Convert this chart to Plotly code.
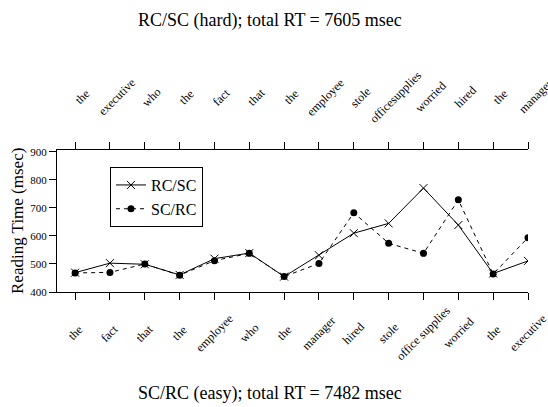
import plotly.graph_objects as go

bottom_words = ["the", "fact", "that", "the", "employee", "who", "the", "manager",
                "hired", "stole", "office supplies", "worried", "the", "executive"]
top_words = ["the", "executive", "who", "the", "fact", "that", "the", "employee",
             "stole", "officesupplies", "worried", "hired", "the", "manager"]
rc_sc = [469, 503, 499, 461, 519, 539, 455, 531, 610, 645, 771, 639, 466, 511]
sc_rc = [468, 470, 500, 460, 512, 538, 455, 502, 683, 574, 538, 729, 464, 594]
pos = list(range(len(bottom_words)))

FONT = "Liberation Serif, Times New Roman, serif"

fig = go.Figure()
fig.add_trace(go.Scatter(
    x=pos, y=rc_sc, name="RC/SC", mode="lines+markers",
    line=dict(color="black", width=1, dash="solid"),
    marker=dict(symbol="x-thin", size=8, line=dict(color="black", width=1), color="black"),
))
fig.add_trace(go.Scatter(
    x=pos, y=sc_rc, name="SC/RC", mode="lines+markers",
    line=dict(color="black", width=1, dash="4px,4px"),
    marker=dict(symbol="circle", size=7, color="black"),
))

ann = []
for i, w in enumerate(bottom_words):
    ann.append(dict(x=i, y=0, xref="x", yref="paper", yshift=-41, text=w,
                    textangle=-45, showarrow=False, xanchor="center", yanchor="middle",
                    font=dict(family=FONT, size=12, color="black")))
for i, w in enumerate(top_words):
    ann.append(dict(x=i, y=1, xref="x", yref="paper", yshift=53, xshift=7, text=w,
                    textangle=-45, showarrow=False, xanchor="center", yanchor="middle",
                    font=dict(family=FONT, size=12, color="black")))
ann.append(dict(x=0.452, y=1, xref="paper", yref="paper", yshift=130,
                text="RC/SC (hard); total RT = 7605 msec", showarrow=False,
                xanchor="center", yanchor="middle",
                font=dict(family=FONT, size=18, color="black")))
ann.append(dict(x=0.452, y=0, xref="paper", yref="paper", yshift=-101,
                text="SC/RC (easy); total RT = 7482 msec", showarrow=False,
                xanchor="center", yanchor="middle",
                font=dict(family=FONT, size=18, color="black")))
ann.append(dict(x=0, y=0.5, xref="paper", yref="paper", xshift=-40,
                text="Reading Time (msec)", textangle=-90, showarrow=False,
                xanchor="center", yanchor="middle",
                font=dict(family=FONT, size=17, color="black")))

fig.update_layout(
    width=548, height=407,
    margin=dict(l=57, r=20, t=150, b=115),
    paper_bgcolor="white", plot_bgcolor="white",
    font=dict(family=FONT, color="black"),
    showlegend=True,
    legend=dict(x=0.1125, y=0.88, xanchor="left", yanchor="top",
                bordercolor="black", borderwidth=1, bgcolor="white",
                font=dict(family=FONT, size=16, color="black"),
                tracegroupgap=0),
    annotations=ann,
    xaxis=dict(range=[-0.52, 13], tickvals=pos, showticklabels=False,
               showgrid=False, zeroline=False, showline=True, linecolor="black",
               linewidth=1, ticks="outside", ticklen=7, tickcolor="black",
               mirror="ticks"),
    yaxis=dict(range=[400, 907], tickvals=[400, 500, 600, 700, 800, 900],
               showgrid=False, zeroline=False, showline=True, linecolor="black",
               linewidth=1, ticks="outside", ticklen=7, tickcolor="black",
               tickfont=dict(family=FONT, size=11, color="black")),
)

fig.write_html("out.html")
